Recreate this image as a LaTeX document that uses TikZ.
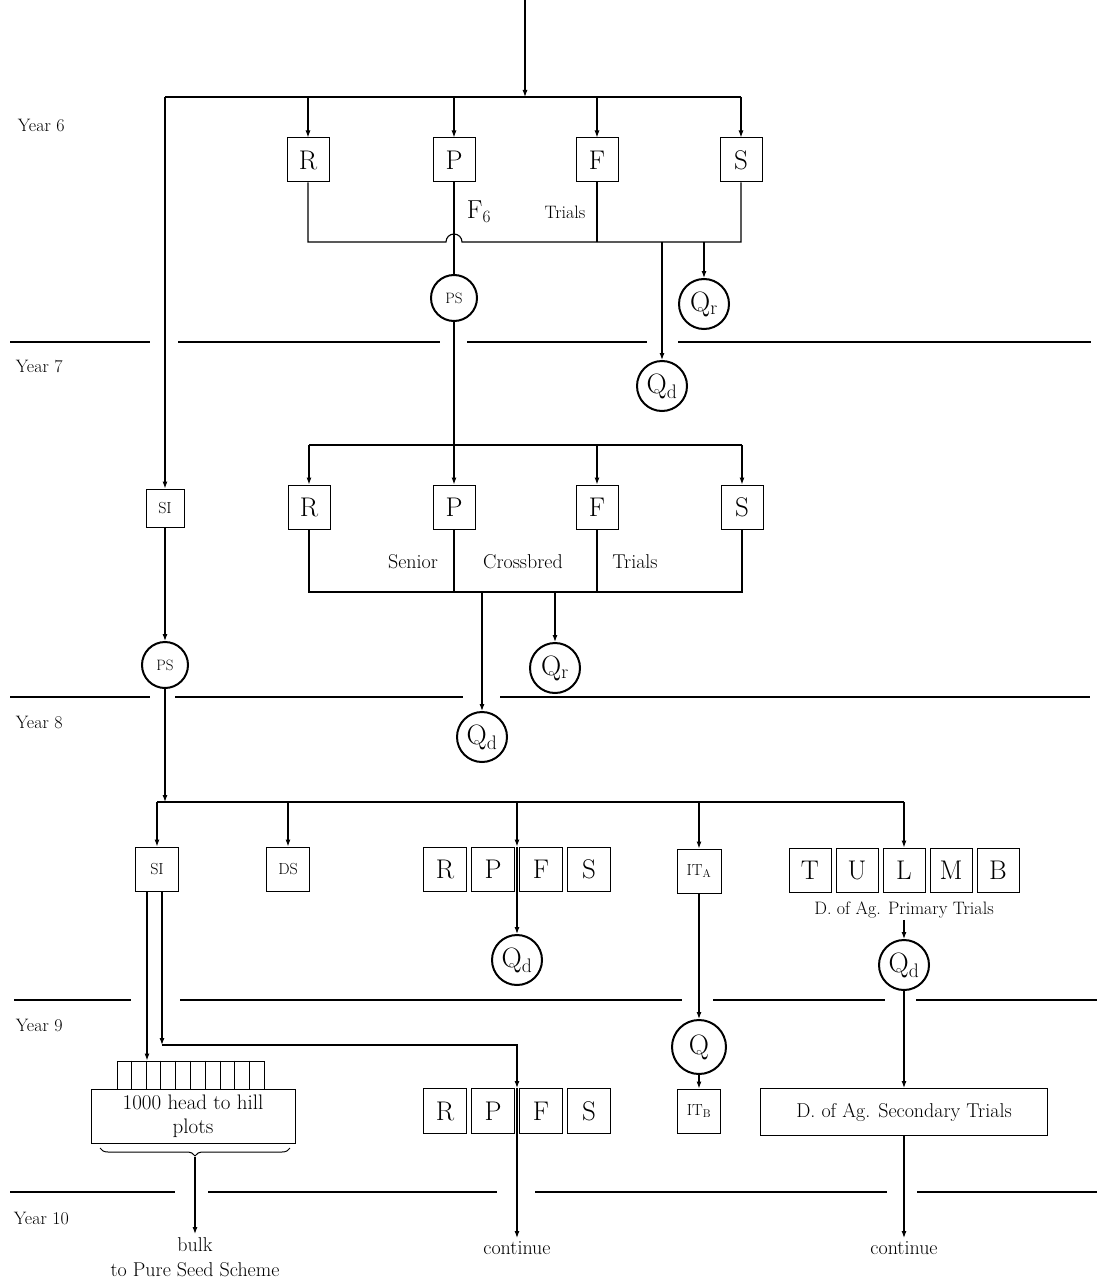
\documentclass[tikz,border=0pt]{standalone}
\usetikzlibrary{arrows.meta,calc,decorations.pathreplacing}
\begin{document}
\begin{tikzpicture}[x=1pt,y=-1pt,
  line width=1.1pt,
  arr/.style={-{Latex[length=7pt,width=5pt]}},
  bx/.style={draw, line width=1pt, minimum width=42, minimum height=44, inner sep=0pt, font=\fontsize{27}{27}\selectfont},
  sbx/.style={draw, line width=1pt, minimum width=43, minimum height=44, inner sep=0pt, font=\fontsize{16}{16}\selectfont},
  circ/.style={draw, circle, line width=2pt, minimum size=50, inner sep=0pt, font=\fontsize{28}{28}\selectfont},
  pscirc/.style={draw, circle, line width=2pt, minimum size=46, inner sep=0pt, font=\fontsize{15}{15}\selectfont},
  div/.style={line width=1.5pt},
  yr/.style={anchor=west, font=\fontsize{18}{18}\selectfont},
  lab/.style={font=\fontsize{20}{20}\selectfont},
]
\useasboundingbox (0,0) rectangle (1097,1284);

% ---- bus levels
\coordinate (b6) at (0,97);
\coordinate (c6) at (0,242);
\coordinate (b7) at (0,445);
\coordinate (c7) at (0,592);
\coordinate (b8) at (0,802);
\coordinate (top) at (525,0);

% ---- year labels
\node[yr] (y6) at (14,125) {Year 6};
\node[yr] (y7) at (12,366) {Year 7};
\node[yr] (y8) at (12,722) {Year 8};
\node[yr] (y9) at (12,1025) {Year 9};
\node[yr] (y10) at (10,1218) {Year 10};

% ---- dividers
\draw[div] (10,342) -- (150,342) (178,342) -- (440,342) (467,342) -- (647,342) (678,342) -- (1091,342);
\draw[div] (10,697) -- (150,697) (175,697) -- (463,697) (500,697) -- (1090,697);
\draw[div] (14,1000) -- (131,1000) (180,1000) -- (682,1000) (713,1000) -- (885,1000) (916,1000) -- (1097,1000);
\draw[div] (10,1192) -- (175,1192) (208,1192) -- (497,1192) (535,1192) -- (887,1192) (917,1192) -- (1097,1192);

% ================= Year 6
\node[bx] (r6) at (308,160) {R};
\node[bx] (p6) at (454,160) {P};
\node[bx] (f6) at (597,160) {F};
\node[bx] (s6) at (741,160) {S};
\node[pscirc] (ps6) at (454,298) {PS};
\node[circ] (qr6) at (704,304) {Q\textsubscript{r}};
\node[circ] (qd6) at (662,386) {Q\textsubscript{d}};
\node[anchor=west, font=\fontsize{26}{26}\selectfont] (f6lab) at (463,212) {F$_6$};
\node[font=\fontsize{18}{18}\selectfont] (tr6) at (565,212) {Trials};

% ================= Year 7
\node[sbx, minimum width=38, minimum height=38] (si7) at (165,508) {SI};
\node[bx] (r7) at (309,507) {R};
\node[bx] (p7) at (454,507) {P};
\node[bx] (f7) at (597,507) {F};
\node[bx] (s7) at (742,507) {S};
\node[pscirc] (ps7) at (165,665) {PS};
\node[circ] (qd7) at (482,737) {Q\textsubscript{d}};
\node[circ] (qr7) at (555,668) {Q\textsubscript{r}};
\node[lab] (sen) at (413,562) {Senior};
\node[lab] (cro) at (523,562) {Crossbred};
\node[lab] (tr7) at (635,562) {Trials};

% ================= Year 8
\node[sbx] (si8) at (157,869) {SI};
\node[sbx] (ds8) at (288,869) {DS};
\node[bx, minimum width=43] (r8) at (445,869) {R};
\node[bx, minimum width=43] (p8) at (493,869) {P};
\node[bx, minimum width=43] (f8) at (541,869) {F};
\node[bx, minimum width=43] (s8) at (589,869) {S};
\node[sbx, minimum width=44] (ita) at (699,871) {IT\textsubscript{A}};
\node[bx] (t8) at (810,870) {T};
\node[bx] (u8) at (857,870) {U};
\node[bx] (l8) at (904,870) {L};
\node[bx] (m8) at (951,870) {M};
\node[bx] (bb8) at (998,870) {B};
\node[font=\fontsize{18}{18}\selectfont, inner sep=1pt] (prim) at (904,910) {D. of Ag. Primary Trials};
\node[circ] (qd8) at (517,960) {Q\textsubscript{d}};
\node[circ] (qdp) at (904,965) {Q\textsubscript{d}};

% ================= Year 9
\node[draw, line width=1pt, minimum width=147, minimum height=28, inner sep=0pt] (comb) at (190.5,1075) {};
\node[draw, line width=1pt, minimum width=204, minimum height=54, inner sep=0pt, align=center,
      font=\fontsize{21}{24}\selectfont] (hb) at (193,1116) {1000 head to hill\\plots};
\node[bx, minimum width=43, minimum height=45] (r9) at (445,1111) {R};
\node[bx, minimum width=43, minimum height=45] (p9) at (493,1111) {P};
\node[bx, minimum width=43, minimum height=45] (f9) at (541,1111) {F};
\node[bx, minimum width=43, minimum height=45] (s9) at (589,1111) {S};
\node[circ, minimum size=54] (q9) at (699,1047) {Q};
\node[sbx] (itb) at (699,1111) {IT\textsubscript{B}};
\node[draw, line width=1pt, minimum width=287, minimum height=47, inner sep=0pt,
      font=\fontsize{20}{20}\selectfont] (sec) at (904,1112) {D. of Ag. Secondary Trials};

% ================= Year 10
\node[align=center, font=\fontsize{20}{25}\selectfont, anchor=north] (bulk) at (195,1234) {bulk\\to Pure Seed Scheme};
\node[font=\fontsize{20}{20}\selectfont, anchor=north] (cont1) at (517,1238) {continue};
\node[font=\fontsize{20}{20}\selectfont, anchor=north] (cont2) at (904,1238) {continue};

% ---------------- connectors Year 6
\draw[arr] (top) -- (top |- b6);
\draw (si7 |- b6) -- (s6 |- b6);
\foreach \n in {r6,p6,f6,s6} \draw[arr] (\n |- b6) -- (\n.north);
\draw[arr] (si7 |- b6) -- (si7.north);
\coordinate (h6) at (p6 |- c6);
\draw (r6.south) -- (r6 |- c6) -- ([xshift=-8pt]h6) arc[start angle=180, end angle=360, radius=8] -- (s6 |- c6) -- (s6.south);
\draw (f6.south) -- (f6 |- c6);
\draw (p6.south) -- (ps6.north);
\draw[arr] (qd6 |- c6) -- (qd6.north);
\draw[arr] (qr6 |- c6) -- (qr6.north);

% ---------------- connectors Year 7
\draw (ps6.south) -- (ps6 |- b7);
\draw (r7 |- b7) -- (s7 |- b7);
\foreach \n in {r7,p7,f7,s7} \draw[arr] (\n |- b7) -- (\n.north);
\draw (r7.south) -- (r7 |- c7) -- (s7 |- c7) -- (s7.south);
\draw (p7.south) -- (p7 |- c7);
\draw (f7.south) -- (f7 |- c7);
\draw[arr] (qd7 |- c7) -- (qd7.north);
\draw[arr] (qr7 |- c7) -- (qr7.north);
\draw[arr] (si7.south) -- (ps7.north);

% ---------------- connectors Year 8
\draw[arr] (ps7.south) -- (ps7 |- b8);
\coordinate (g8t) at ($(p8.north east)!0.5!(f8.north west)$);
\coordinate (g8b) at ($(p8.south east)!0.5!(f8.south west)$);
\draw (si8 |- b8) -- (l8 |- b8);
\foreach \n in {si8,ds8,ita,l8} \draw[arr] (\n |- b8) -- (\n.north);
\draw[arr] (g8t |- b8) -- (g8t);
\draw (g8t) -- (g8b);
\draw[arr] (g8b) -- (qd8.north);
\draw[arr] (prim.south) -- (qdp.north);
\draw[arr] (qdp.south) -- (sec.north);
\draw[arr] (ita.south) -- (q9.north);
\draw[arr] (q9.south) -- (itb.north);

% ---------------- connectors Year 9
\foreach \i in {1,...,9} \draw[line width=1pt] ($(comb.north west)!\i/10!(comb.north east)$) -- ($(comb.south west)!\i/10!(comb.south east)$);
\coordinate (k) at ([xshift=5pt]si8.south |- 0,1045);
\coordinate (g9t) at ($(p9.north east)!0.5!(f9.north west)$);
\coordinate (g9b) at ($(p9.south east)!0.5!(f9.south west)$);
\draw[arr] ([xshift=-10pt]si8.south) -- ([xshift=-10pt]si8.south |- comb.north);
\draw[arr] ([xshift=5pt]si8.south) -- (k);
\draw[arr] (k) -| (g9t);
\draw (g9t) -- (g9b);
\draw[arr] (g9b) -- (cont1.north);
\draw[line width=1pt, decorate, decoration={brace, amplitude=8pt}] (290,1148) -- (100,1148);
\coordinate (bt) at (195,1157);
\draw[arr] (bt) -- (bulk.north);
\draw[arr] (sec.south) -- (cont2.north);
\end{tikzpicture}
\end{document}
